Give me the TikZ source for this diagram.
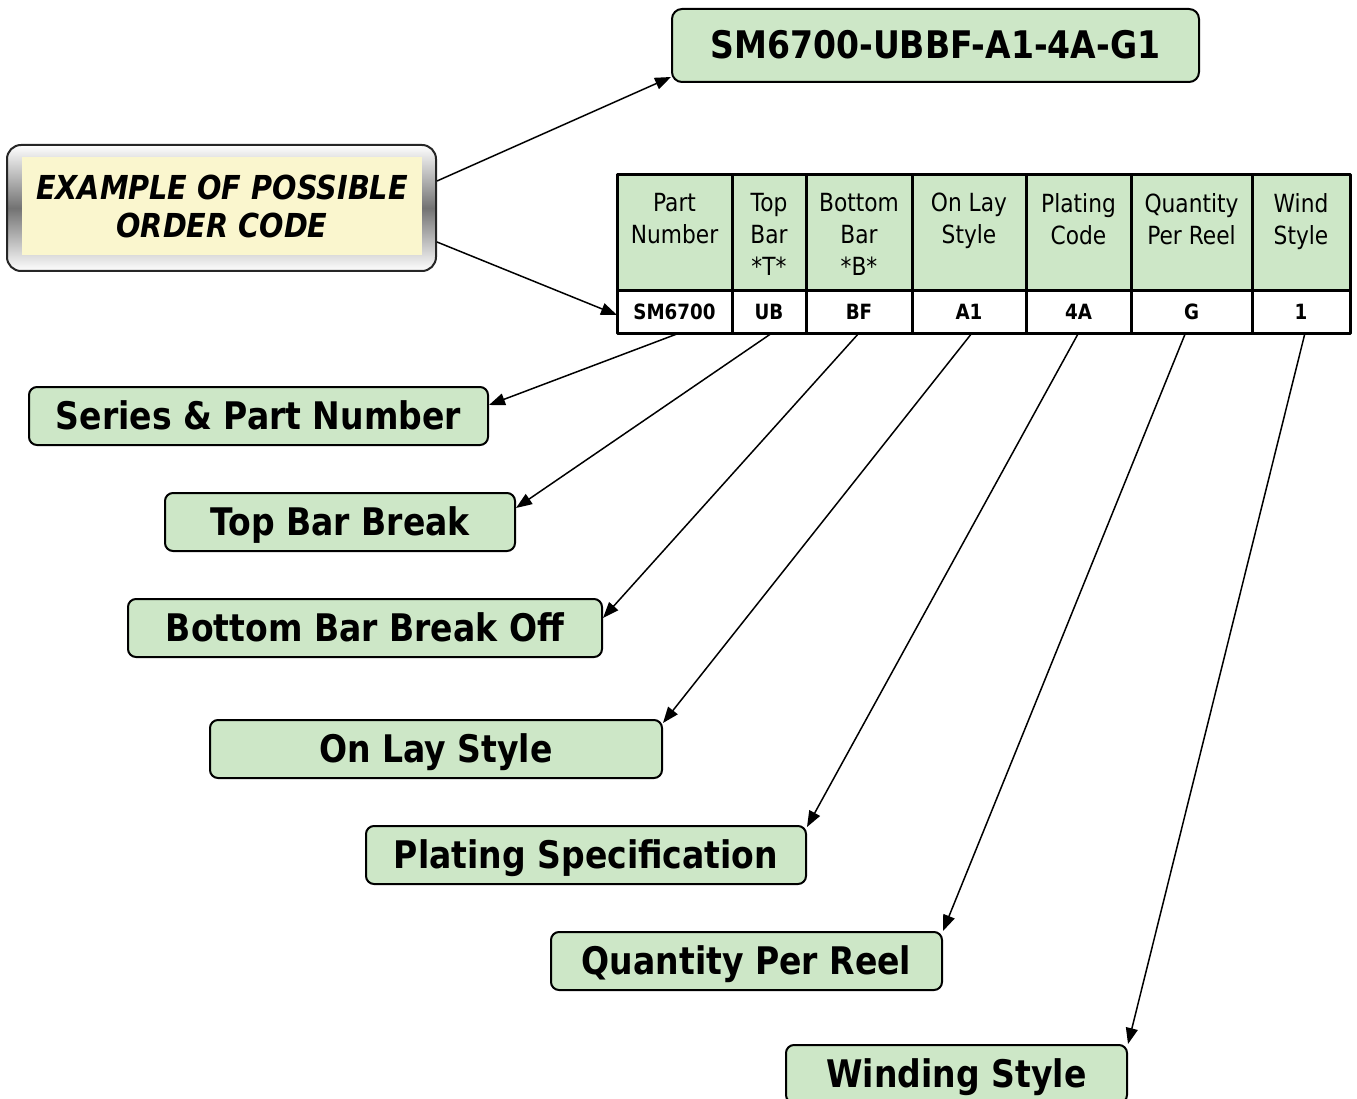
\documentclass[tikz,border=0pt]{standalone}
\usepackage{fontspec}
\setmainfont{DejaVu Sans}[FakeStretch=0.87]
\usetikzlibrary{arrows.meta,positioning}

\definecolor{tabgreen}{RGB}{205,231,199}
\definecolor{notecream}{RGB}{250,246,206}

\begin{document}
\begin{tikzpicture}[x=1pt, y=-1pt, line join=round,
  lbl/.style={draw, line width=2pt, fill=tabgreen, rounded corners=8pt, minimum height=58pt,
    inner sep=0pt, text height=27pt, text depth=0pt, font=\fontsize{38}{44}\selectfont\bfseries},
  hcell/.style={draw, line width=3pt, fill=tabgreen, minimum height=116pt, inner sep=0pt,
    outer sep=0pt, anchor=north west},
  vcell/.style={draw, line width=3pt, fill=white, minimum height=42pt, inner sep=0pt,
    outer sep=0pt, anchor=north west, font=\fontsize{21}{24}\selectfont\bfseries},
  htxt/.style={anchor=north, align=center, inner sep=0pt, font=\fontsize{25}{32}\selectfont,
    execute at begin node=\strut},
  arr/.style={-{Triangle[length=16pt,width=12pt]}, line width=1.5pt}]
\clip (0,0) rectangle (1357,1099);

% order code on top
\node[lbl, minimum width=527pt, minimum height=73pt, rounded corners=10pt] (code) at (935.5,45.5) {SM6700-UBBF-A1-4A-G1};

% framed note on the left
\node[draw=black!85, line width=2pt, rounded corners=14pt, minimum width=429pt, minimum height=126pt,
  top color=white, bottom color=white, middle color=black!55] (ex) at (221.5,208) {};
\node[fill=notecream, minimum width=400pt, minimum height=98pt, align=center,
  font=\fontsize{33}{38}\selectfont\bfseries\itshape] (exin) at (222,206) {EXAMPLE OF POSSIBLE\\ORDER CODE};

% code table
\foreach \i/\xl/\w/\head/\val in {1/617/115/{Part\\Number}/SM6700, 2/732/74/{Top\\Bar\\*T*}/UB,
    3/806/106/{Bottom\\Bar\\*B*}/BF, 4/912/114/{On Lay\\Style}/A1, 5/1026/105/{Plating\\Code}/4A,
    6/1131/121/{Quantity\\Per Reel}/G, 7/1252/98/{Wind\\Style}/1} {
  \node[hcell, minimum width=\w] (h\i) at (\xl,175) {};
  \node[htxt] (ht\i) at ([yshift=-18pt]h\i.north) {\head};
  \node[vcell, minimum width=\w] (v\i) at (\xl,291) {\val};
}

% field labels
\node[lbl, minimum width=459pt] (ser) at (258.5,416) {Series \& Part Number};
\node[lbl, minimum width=350pt] (tbb) at (340,522) {Top Bar Break};
\node[lbl, minimum width=474pt] (bbo) at (365,628) {Bottom Bar Break Off};
\node[lbl, minimum width=452pt] (ols) at (436,749) {On Lay Style};
\node[lbl, minimum width=440pt] (pls) at (586,855) {Plating Specification};
\node[lbl, minimum width=391pt] (qpr) at (746.5,961) {Quantity Per Reel};
\node[lbl, minimum width=341pt] (wnd) at (956.5,1074) {Winding Style};

\draw[arr] ([yshift=27pt]ex.east) -- ([yshift=6pt]code.south west);
\draw[arr] ([yshift=-34pt]ex.east) -- ([yshift=-3pt]v1.west);

\draw[arr] ([xshift=5pt]v1.south) -- ([yshift=11pt]ser.east);
\draw[arr] ([xshift=3pt]v2.south) -- ([yshift=14pt]tbb.east);
\draw[arr] (v3.south) -- ([yshift=10pt]bbo.east);
\draw[arr] ([xshift=3pt]v4.south) -- ([yshift=-4pt]ols.north east);
\draw[arr] (v5.south) -- ([yshift=-2pt]pls.north east);
\draw[arr] ([xshift=-6pt]v6.south) -- (qpr.north east);
\draw[arr] ([xshift=4pt]v7.south) -- (wnd.north east);
\end{tikzpicture}
\end{document}
